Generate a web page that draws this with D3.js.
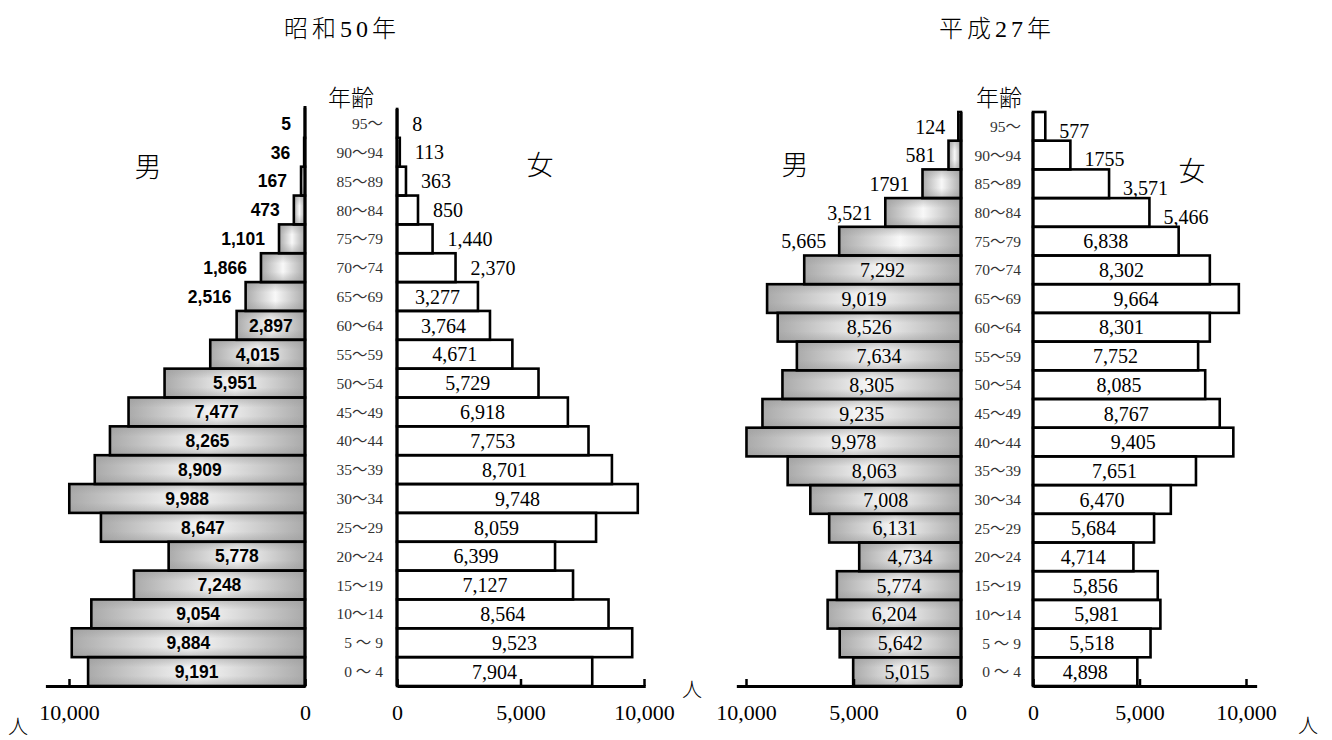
<!DOCTYPE html>
<html>
<head>
<meta charset="utf-8">
<script src="https://cdn.jsdelivr.net/npm/d3@7"></script>
<style>
  html, body { margin: 0; padding: 0; background: #fff; }
  svg { display: block; }
  .serif { font-family: "Liberation Serif", "Noto Sans CJK JP", serif; }
  .sans { font-family: "Liberation Sans", "Noto Sans CJK JP", sans-serif; }
</style>
</head>
<body>
<svg id="chart" width="1332" height="740"></svg>
<script>
// Age groups, oldest first (top row of each pyramid)
const ages = ["95～", "90～94", "85～89", "80～84", "75～79", "70～74", "65～69", "60～64",
  "55～59", "50～54", "45～49", "40～44", "35～39", "30～34", "25～29", "20～24",
  "15～19", "10～14", "5 ～ 9", "0 ～ 4"];

// 昭和50年 population (persons)
const s50Male = [5, 36, 167, 473, 1101, 1866, 2516, 2897, 4015, 5951,
  7477, 8265, 8909, 9988, 8647, 5778, 7248, 9054, 9884, 9191];
const s50Female = [8, 113, 363, 850, 1440, 2370, 3277, 3764, 4671, 5729,
  6918, 7753, 8701, 9748, 8059, 6399, 7127, 8564, 9523, 7904];

// 平成27年 population (persons)
const h27Male = [124, 581, 1791, 3521, 5665, 7292, 9019, 8526, 7634, 8305,
  9235, 9978, 8063, 7008, 6131, 4734, 5774, 6204, 5642, 5015];
const h27Female = [577, 1755, 3571, 5466, 6838, 8302, 9664, 8301, 7752, 8085,
  8767, 9405, 7651, 6470, 5684, 4714, 5856, 5981, 5518, 4898];

const titles = ["昭和50年", "平成27年"];
const axisTicks = [0, 5000, 10000];

const svg = d3.select("#chart");
const fmt = d3.format(",");
const plain = v => String(v);

// gradients for the men's bars: light centre, grey ends
const defs = svg.append("defs");
const gh = defs.append("linearGradient").attr("id", "maleH")
  .attr("x1", 0).attr("y1", 0).attr("x2", 1).attr("y2", 0);
gh.append("stop").attr("offset", 0).attr("stop-color", "#aaaaaa");
gh.append("stop").attr("offset", 0.5).attr("stop-color", "#f8f8f8");
gh.append("stop").attr("offset", 1).attr("stop-color", "#aaaaaa");
const gv = defs.append("linearGradient").attr("id", "maleV")
  .attr("x1", 0).attr("y1", 0).attr("x2", 0).attr("y2", 1);
gv.append("stop").attr("offset", 0).attr("stop-color", "#9a9a9a").attr("stop-opacity", 0.55);
gv.append("stop").attr("offset", 0.35).attr("stop-color", "#9a9a9a").attr("stop-opacity", 0);
gv.append("stop").attr("offset", 0.65).attr("stop-color", "#9a9a9a").attr("stop-opacity", 0);
gv.append("stop").attr("offset", 1).attr("stop-color", "#9a9a9a").attr("stop-opacity", 0.55);

const axisY = 686;

// one half-pyramid: bars, value labels and the horizontal axis
function half(cfg) {
  const g = svg.append("g");
  const dir = cfg.side === "male" ? -1 : 1;
  const x = d3.scaleLinear().domain([0, cfg.axisMax])
    .range([cfg.x0, cfg.x0 + dir * cfg.axisMax * cfg.pxPerUnit]);
  const y = d3.scaleBand().domain(ages).range([cfg.top, axisY]).padding(0);

  const rows = cfg.values.map((v, i) => ({ v, age: ages[i], i }));
  const rx = d => Math.min(x(0), x(d.v));
  const rw = d => Math.abs(x(d.v) - x(0));

  if (cfg.side === "male") {
    g.selectAll("rect.fillH").data(rows).join("rect").attr("class", "fillH")
      .attr("x", rx).attr("y", d => y(d.age)).attr("width", rw).attr("height", y.bandwidth())
      .attr("fill", "url(#maleH)");
    g.selectAll("rect.fillV").data(rows).join("rect").attr("class", "fillV")
      .attr("x", rx).attr("y", d => y(d.age)).attr("width", rw).attr("height", y.bandwidth())
      .attr("fill", "url(#maleV)");
  } else {
    g.selectAll("rect.fillH").data(rows).join("rect").attr("class", "fillH")
      .attr("x", rx).attr("y", d => y(d.age)).attr("width", rw).attr("height", y.bandwidth())
      .attr("fill", "#fff");
  }
  g.selectAll("rect.edge").data(rows).join("rect").attr("class", "edge")
    .attr("x", rx).attr("y", d => y(d.age)).attr("width", rw).attr("height", y.bandwidth())
    .attr("fill", "none").attr("stroke", "#000").attr("stroke-width", 2.6);

  // vertical zero line
  g.append("line").attr("x1", x(0)).attr("x2", x(0))
    .attr("y1", cfg.lineTop).attr("y2", axisY)
    .attr("stroke", "#000").attr("stroke-width", 3);

  // value labels: outside the bar for the top rows, centred inside otherwise
  g.selectAll("text.val").data(rows).join("text").attr("class", "val " + cfg.labelClass)
    .attr("x", d => d.i < cfg.outsideRows
      ? x(d.v) + dir * cfg.outsideGap
      : (x(0) + x(d.v)) / 2)
    .attr("y", d => y(d.age) + y.bandwidth() / 2 + (d.i < cfg.outsideRows ? cfg.outsideDy : 0))
    .attr("dy", "0.36em")
    .attr("text-anchor", d => d.i < cfg.outsideRows ? (dir < 0 ? "end" : "start") : "middle")
    .attr("font-size", cfg.labelSize)
    .attr("font-weight", cfg.labelWeight || "normal")
    .attr("fill", "#000")
    .text(d => cfg.format(d.v, d.i));

  // horizontal axis
  const axis = d3.axisBottom(x).tickValues(cfg.ticks)
    .tickSizeInner(-7).tickSizeOuter(0).tickPadding(18)
    .tickFormat(fmt);
  const ag = g.append("g").attr("transform", `translate(0,${axisY})`).call(axis);
  ag.select(".domain").attr("stroke", "#000").attr("stroke-width", 3);
  ag.selectAll(".tick line").attr("stroke", "#000").attr("stroke-width", 2.5);
  ag.selectAll(".tick text").attr("class", "serif").attr("font-size", 22)
    .attr("fill", "#000").attr("font-family", null);
  return { x, y };
}

const ageLabel = (cx, top) => {
  const y = d3.scaleBand().domain(ages).range([top, axisY]);
  svg.append("g").selectAll("text").data(ages).join("text")
    .attr("class", "serif")
    .attr("x", cx).attr("y", d => y(d) + y.bandwidth() / 2).attr("dy", "0.36em")
    .attr("text-anchor", "end").attr("font-size", 15.5).attr("fill", "#333")
    .text(d => d);
};

const addText = (txt, x, y, size, anchor = "middle") =>
  svg.append("text").attr("class", "serif").attr("x", x).attr("y", y)
    .attr("dy", "0.36em").attr("text-anchor", anchor)
    .attr("font-size", size).attr("fill", "#000").text(txt);

// ---- 昭和50年 ----
half({ side: "male", values: s50Male, x0: 305, pxPerUnit: 0.0236, axisMax: 11000,
  top: 109, lineTop: 106, ticks: [0, 10000], outsideRows: 7, outsideGap: 14, outsideDy: 0,
  labelClass: "sans", labelSize: 17.5, labelWeight: "bold", format: v => fmt(v) });
half({ side: "female", values: s50Female, x0: 397, pxPerUnit: 0.0247, axisMax: 10050,
  top: 109, lineTop: 109, ticks: axisTicks, outsideRows: 6, outsideGap: 15, outsideDy: 0,
  labelClass: "serif", labelSize: 20, format: v => fmt(v) });
ageLabel(383, 109);

// ---- 平成27年 ----
half({ side: "male", values: h27Male, x0: 961, pxPerUnit: 0.0215, axisMax: 10450,
  top: 112, lineTop: 112, ticks: axisTicks, outsideRows: 5, outsideGap: 13, outsideDy: 0,
  labelClass: "serif", labelSize: 20, format: (v, i) => i === 2 ? plain(v) : fmt(v) });
half({ side: "female", values: h27Female, x0: 1033, pxPerUnit: 0.0213, axisMax: 10500,
  top: 112, lineTop: 112, ticks: axisTicks, outsideRows: 4, outsideGap: 14, outsideDy: 4,
  labelClass: "serif", labelSize: 20, format: (v, i) => i === 1 ? plain(v) : fmt(v) });
ageLabel(1021, 112);

// titles, headings and units
addText(titles[0], 342, 28, 24).attr("letter-spacing", 4).attr("font-weight", 300);
addText(titles[1], 997, 28, 24).attr("letter-spacing", 4).attr("font-weight", 300);
addText("年齢", 351, 98, 23).attr("font-weight", 300);
addText("年齢", 999, 98, 23).attr("font-weight", 300);
addText("男", 148, 167, 27).attr("font-weight", 300);
addText("女", 540, 165, 27).attr("font-weight", 300);
addText("男", 795, 165, 27).attr("font-weight", 300);
addText("女", 1192, 171, 27).attr("font-weight", 300);
addText("人", 18, 727, 20).attr("font-weight", 300);
addText("人", 692, 690, 20).attr("font-weight", 300);
addText("人", 1308, 726, 20).attr("font-weight", 300);
</script>
</body>
</html>
